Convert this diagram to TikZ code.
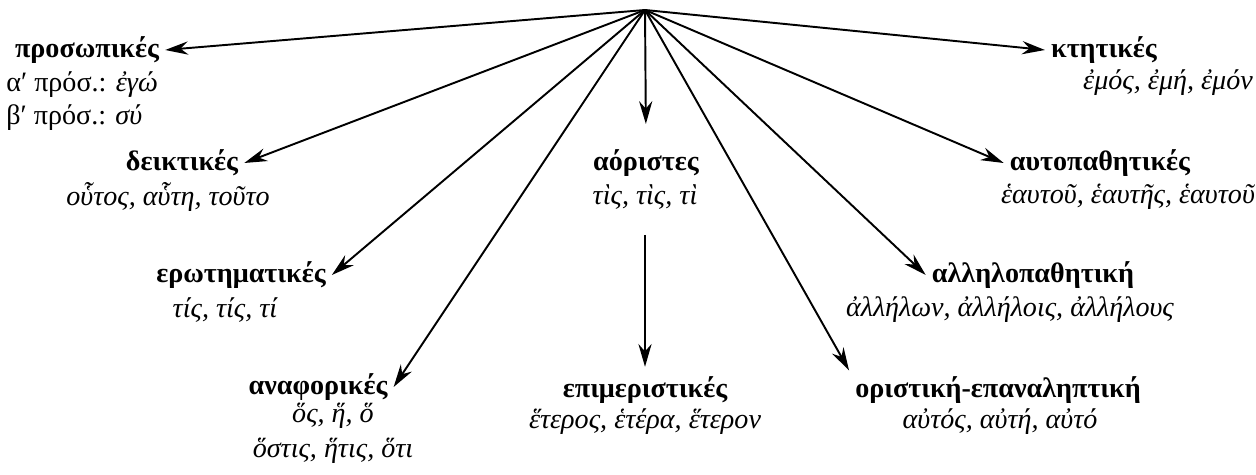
\documentclass[tikz,border=0pt]{standalone}
\usepackage{fontspec}
\setmainfont{LiberationSerif}[Extension=.ttf, UprightFont=*-Regular, BoldFont=*-Bold, ItalicFont=*-Italic, BoldItalicFont=*-BoldItalic]
\usetikzlibrary{arrows.meta, positioning}
\tikzset{
  every picture/.style={line width=1.1pt},
  head/.style={font=\fontsize{16}{20}\selectfont\bfseries, inner sep=3pt},
  ex/.style={font=\fontsize{16}{20}\selectfont\itshape, align=center, inner sep=3pt},
  arrow/.style={-{Stealth[length=13pt, width=7.5pt]}, line width=1.1pt},
}

\begin{document}
\begin{tikzpicture}[x=0.02cm, y=-0.02cm]
  \useasboundingbox (0,0) rectangle (1256,475);
  \coordinate (root) at (645,10);
  % left branch
  \node[head] (pros) at (87,50) {προσωπικές};
  \node[ex, font=\fontsize{16}{19}\selectfont, align=left] (pros-ex) at (82,101) {α′ πρόσ.: \textit{ἐγώ}\\ β′ πρόσ.: \textit{σύ}};
  \node[head] (deik) at (182,163) {δεικτικές};
  \node[ex] (deik-ex) at (168,197) {οὗτος, αὗτη, τοῦτο};
  \node[head] (erot) at (241,275) {ερωτηματικές};
  \node[ex] (erot-ex) at (225,310) {τίς, τίς, τί};
  \node[head] (anaf) at (318,387) {αναφορικές};
  \node[ex] (anaf-ex) at (333,433) {ὅς, ἥ, ὅ\\ ὅστις, ἥτις, ὅτι};
  % middle
  \node[head] (aor) at (646,163) {αόριστες};
  \node[ex] (aor-ex) at (645,197) {τὶς, τὶς, τὶ};
  \node[head] (epim) at (645,390) {επιμεριστικές};
  \node[ex] (epim-ex) at (645,422) {ἕτερος, ἑτέρα, ἕτερον};
  % right branch
  \node[head] (orist) at (998,390) {οριστική-επαναληπτική};
  \node[ex] (orist-ex) at (1000,422) {αὐτός, αὐτή, αὐτό};
  \node[head] (allil) at (1033,275) {αλληλοπαθητική};
  \node[ex] (allil-ex) at (1010,310) {ἀλλήλων, ἀλλήλοις, ἀλλήλους};
  \node[head] (aftop) at (1100,163) {αυτοπαθητικές};
  \node[ex] (aftop-ex) at (1128,197) {ἑαυτοῦ, ἑαυτῆς, ἑαυτοῦ};
  \node[head] (ktit) at (1104,50) {κτητικές};
  \node[ex] (ktit-ex) at (1168,83) {ἐμός, ἐμή, ἐμόν};
  % arrows from the root
  \draw[arrow] (root) -- (pros.east);
  \draw[arrow] (root) -- (deik.east);
  \draw[arrow] (root) -- (erot.east);
  \draw[arrow] (root) -- (anaf.east);
  \draw[arrow, shorten >=11pt] (root) -- (aor.north);
  \draw[arrow, shorten <=11pt, shorten >=2pt] (aor-ex.south) -- (epim.north);
  \draw[arrow] (root) -- (orist.north west);
  \draw[arrow] (root) -- (allil.west);
  \draw[arrow] (root) -- (aftop.west);
  \draw[arrow] (root) -- (ktit.west);
\end{tikzpicture}
\end{document}
